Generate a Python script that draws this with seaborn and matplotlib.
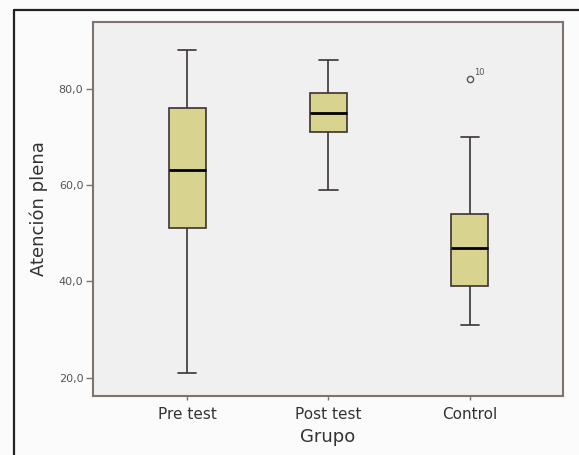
import pandas as pd
import seaborn as sns
import matplotlib.pyplot as plt
from matplotlib.lines import Line2D

# observations per group (read so the quartiles/whiskers match the figure)
pre_test = [21, 40, 51, 58, 63, 70, 76, 82, 88]
post_test = [59, 68, 71, 73, 75, 77, 79, 83, 86]
control = [31, 35, 39, 43, 47, 50, 54, 70, 82]
groups = ['Pre test', 'Post test', 'Control']
outlier_case = '10'

y_ticks = [20, 40, 60, 80]
y_labels = ['20,0', '40,0', '60,0', '80,0']

df = pd.DataFrame({
    'Grupo': [groups[0]] * len(pre_test) + [groups[1]] * len(post_test) + [groups[2]] * len(control),
    'valor': pre_test + post_test + control,
})

sns.set_style('white')
plt.rcParams['font.family'] = ['DejaVu Sans']

fig = plt.figure(figsize=(5.79, 4.55), dpi=100, facecolor='#fbfbfb')
ax = fig.add_axes([93 / 579, 1 - 396 / 455, (563 - 93) / 579, (396 - 22) / 455])
ax.set_facecolor('#f0f0f0')

edge = '#3a3330'
sns.boxplot(data=df, x='Grupo', y='valor', order=groups, ax=ax,
            color='#d8d38e', saturation=1, width=0.26, linecolor=edge,
            linewidth=1.2,
            medianprops={'color': 'black', 'linewidth': 2},
            flierprops={'marker': 'o', 'markerfacecolor': 'none',
                        'markeredgecolor': '#555555', 'markersize': 4.5,
                        'markeredgewidth': 1})

# case label of the outlier in Control
ax.annotate(outlier_case, xy=(2, max(control)), xytext=(3, 3),
            textcoords='offset points', fontsize=6, color='#555555')

ax.set_xlim(-0.667, 2.66)
ax.set_ylim(16.2, 93.8)
ax.set_yticks(y_ticks)
ax.set_yticklabels(y_labels)
ax.tick_params(axis='y', left=True, length=5, width=1, color='#7d7470',
               labelsize=8, labelcolor='#555555', pad=2)
ax.tick_params(axis='x', bottom=True, length=3, width=1, color='#7d7470',
               labelsize=11, labelcolor='#333333', pad=5)

ax.set_xlabel('Grupo', fontsize=13, color='#333333', labelpad=4)
ax.set_ylabel('Atención plena', fontsize=13, color='#333333', labelpad=8)

for sp in ax.spines.values():
    sp.set_visible(True)
    sp.set_color('#7d7470')
    sp.set_linewidth(1.5)

# outer frame (top and left edges as in the scanned figure)
fig.add_artist(Line2D([14 / 579, 1], [1 - 10 / 455, 1 - 10 / 455],
                      transform=fig.transFigure, color='#222222', linewidth=1.6))
fig.add_artist(Line2D([14 / 579, 14 / 579], [0, 1 - 10 / 455],
                      transform=fig.transFigure, color='#222222', linewidth=1.6))

fig.savefig('out.png', dpi=100, facecolor=fig.get_facecolor())
